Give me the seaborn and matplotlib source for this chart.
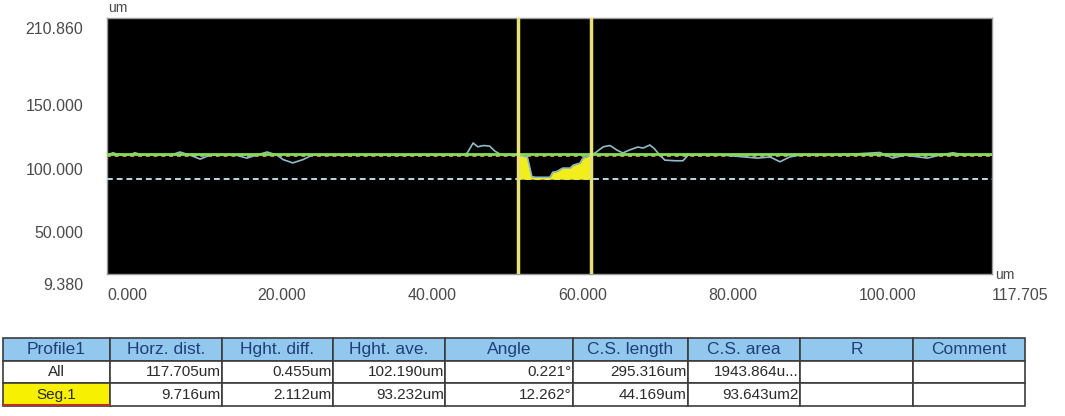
import numpy as np
import pandas as pd
import matplotlib.pyplot as plt
import matplotlib.transforms as mtrans
import seaborn as sns

# profile readings (um)
pos = [0.0, 0.8, 1.7, 3.1, 3.7, 4.7, 7.0, 8.6, 9.7, 11.0, 12.4, 13.7, 17.0,
       18.6, 19.9, 21.3, 22.6, 23.4, 24.7, 26.1, 27.3, 29.7, 33.7, 39.0, 44.3,
       47.2, 47.9, 48.7, 49.3, 50.1, 50.9, 51.6, 52.5, 53.6, 54.6, 55.9, 56.5,
       57.0, 58.1, 58.9, 59.3, 59.8, 60.6, 61.6, 62.0, 62.9, 63.3, 64.2, 64.4,
       65.0, 66.0, 66.9, 67.8, 68.6, 69.5, 70.6, 71.3, 72.2, 72.8, 73.5, 74.2,
       75.6, 76.6, 77.3, 81.5, 86.5, 88.2, 89.5, 90.8, 92.2, 97.5, 102.8,
       104.5, 106.1, 109.1, 110.8, 112.5, 114.1, 117.705]
height = [103.0, 104.8, 103.0, 103.2, 104.8, 103.0, 103.0, 103.2, 105.4,
          103.0, 99.8, 103.0, 103.2, 100.6, 103.0, 105.4, 103.0, 99.5, 96.8,
          99.5, 103.0, 102.8, 103.2, 102.8, 103.2, 103.0, 104.5, 112.5, 109.5,
          110.5, 110.0, 106.0, 103.0, 103.0, 103.0, 101.5, 86.0, 85.5, 85.5,
          85.5, 89.5, 90.0, 92.7, 92.7, 95.0, 96.6, 100.6, 102.5, 103.0,
          105.0, 109.5, 110.5, 107.0, 104.6, 107.0, 109.3, 108.5, 110.9, 108.0,
          103.0, 99.0, 98.5, 98.5, 103.0, 103.2, 100.6, 101.5, 97.7, 101.5,
          103.0, 103.2, 105.0, 100.6, 103.0, 100.6, 103.0, 104.8, 103.0, 103.0]

avg_level = 103.6
ref_level = 102.6
low_level = 84.0
cursor_left = 54.6
cursor_right = 64.4

x_max = 117.705
y_min, y_max = 9.380, 210.860
x_ticks = [20, 40, 60, 80, 100]
y_ticks = [50, 100, 150]

col_labels = ['Profile1', 'Horz. dist.', 'Hght. diff.', 'Hght. ave.', 'Angle',
              'C.S. length', 'C.S. area', 'R', 'Comment']
row_all = ['All', '117.705um', '0.455um', '102.190um', '0.221°',
           '295.316um', '1943.864u...', '', '']
row_seg = ['Seg.1', '9.716um', '2.112um', '93.232um', '12.262°',
           '44.169um', '93.643um2', '', '']
col_px = [107, 112, 111, 112, 128, 115, 112, 113, 112]

df = pd.DataFrame({'pos': pos, 'height': height})

sns.set_style('white')
plt.rcParams['font.family'] = ['Liberation Sans', 'DejaVu Sans']

W, H = 1065, 416
fig = plt.figure(figsize=(W / 100, H / 100), dpi=100)
ax = fig.add_axes([107 / W, 1 - 274 / H, 885 / W, 256 / H])
ax.set_facecolor('black')

ax.axhline(ref_level, color='#c99a3c', lw=1.4, ls=(0, (2, 2)), zorder=3)
ax.axhline(low_level, color='#b4dbe6', lw=1.4, ls=(0, (3, 2)), zorder=3)

x = df['pos'].to_numpy()
y = df['height'].to_numpy()
seg = (x >= cursor_left) & (x <= cursor_right)
ax.fill_between(x, y, low_level, where=seg, color='#f2ee1c', lw=0,
                interpolate=False, zorder=4)
sns.lineplot(data=df, x='pos', y='height', ax=ax, color='#8fbcc8', lw=1.2,
             zorder=5, sort=False)
ax.axhline(avg_level, color='#86dc58', lw=2.0, zorder=5.5)

for c in (cursor_left, cursor_right):
    ax.axvline(c, color='#e6df7a', lw=2.5, zorder=6)

ax.set_xlim(0, x_max)
ax.set_ylim(y_min, y_max)
ax.set_xlabel('')
ax.set_ylabel('')

ax.set_xticks(x_ticks)
ax.set_xticks([0, x_max], minor=True)
ax.set_yticks(y_ticks)
ax.set_yticks([y_min, y_max], minor=True)
ax.set_xticklabels([f'{v:.3f}' for v in x_ticks])
ax.set_xticklabels([f'{v:.3f}' for v in [0, x_max]], minor=True)
ax.set_yticklabels([f'{v:.3f}' for v in y_ticks])
ax.set_yticklabels([f'{v:.3f}' for v in [y_min, y_max]], minor=True)

ax.tick_params(which='major', direction='in', length=11, width=1.5,
               color='#d0d0d0', labelsize=11.5, labelcolor='#4a4a4a')
ax.tick_params(which='minor', length=0, labelsize=11.5, labelcolor='#4a4a4a')
ax.tick_params(axis='x', which='both', pad=10)
ax.tick_params(axis='y', which='both', pad=17)

shift_down = mtrans.ScaledTranslation(0, -10 / 100, fig.dpi_scale_trans)
for lab in ax.get_yticklabels(which='both'):
    lab.set_transform(lab.get_transform() + shift_down)
for lab in ax.get_xticklabels(which='both'):
    lab.set_horizontalalignment('left')

for sp in ax.spines.values():
    sp.set_color('#9a9a9a')
    sp.set_linewidth(1)

fig.text(108 / W, 1 - 8 / H, 'um', fontsize=10, color='#4a4a4a', va='center')
fig.text(995 / W, 1 - 275 / H, 'um', fontsize=10, color='#4a4a4a', va='center')

# results table
tax = fig.add_axes([3 / W, 1 - 406 / H, 1022 / W, 68 / H])
tax.axis('off')
widths = [c / sum(col_px) for c in col_px]
tbl = tax.table(cellText=[row_all, row_seg], colLabels=col_labels,
                colWidths=widths, bbox=[0, 0, 1, 1], cellLoc='center')
tbl.auto_set_font_size(False)
tbl.set_fontsize(11)
for (r, c), cell in tbl.get_celld().items():
    cell.set_edgecolor('#3c3c3c')
    cell.set_linewidth(1.2)
    txt = cell.get_text()
    if r == 0:
        cell.set_facecolor('#93c8ee')
        txt.set_color('#1f3f78')
        txt.set_fontsize(12.5)
    else:
        txt.set_color('#2a2a2a')
        if c > 0:
            cell._loc = 'right'
            txt.set_horizontalalignment('right')
            cell.PAD = 0.01
tbl[2, 0].set_facecolor('#f7f000')
tax.plot([0, col_px[0] / sum(col_px)], [0.01, 0.01], color='#c03020', lw=1.5,
         transform=tax.transAxes, clip_on=False)

fig.savefig('out.png', dpi=100, facecolor='white')
